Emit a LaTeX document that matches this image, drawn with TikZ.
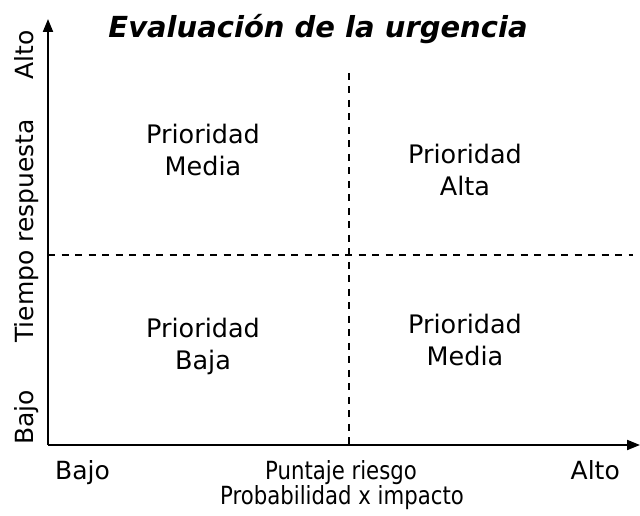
\documentclass[tikz,border=0pt]{standalone}
\usepackage{fontspec}
\setmainfont{DejaVu Sans}
\usetikzlibrary{arrows.meta}
\tikzset{
  quad/.style={align=center, font=\fontsize{25.5}{32}\selectfont},
  axlabel/.style={font=\fontsize{25}{30}\selectfont, inner sep=0pt},
  divider/.style={dashed, dash pattern=on 7pt off 6.5pt, line width=1.5pt},
}
\newcommand{\squeeze}[1]{\scalebox{0.85}[1]{#1}}
\begin{document}
\begin{tikzpicture}[x=1pt, y=1pt]
    \useasboundingbox (0,0) rectangle (640,516);

    % Axes
    \coordinate (O) at (48,71);
    \coordinate (ytop) at (48,497);
    \coordinate (xend) at (640,71);
    \draw[-{Triangle[length=13pt, width=10pt]}, line width=2pt] (O) -- (ytop);
    \draw[-{Triangle[length=13pt, width=10pt]}, line width=2pt] (O) -- (xend);

    % Dashed dividers
    \coordinate (vtop) at (349,443);
    \coordinate (vbot) at (349,71);
    \coordinate (hleft) at (48,261);
    \coordinate (hright) at (633,261);
    \draw[divider] (vtop) -- (vbot);
    \draw[divider] (hleft) -- (hright);

    % Title
    \node[font=\fontsize{29}{34}\selectfont\bfseries\itshape, anchor=base] (title) at (318,478) {Evaluación de la urgencia};

    % Quadrants
    \node[quad] (tl) at (203,366) {Prioridad\\Media};
    \node[quad] (tr) at (465,346) {Prioridad\\Alta};
    \node[quad] (bl) at (203,170) {Prioridad\\Baja};
    \node[quad] (br) at (465,176) {Prioridad\\Media};

    % Vertical axis labels
    \node[axlabel, rotate=90, anchor=base west] (yhigh) at (34,436) {Alto};
    \node[axlabel, rotate=90, anchor=base] (ytitle) at (34,285) {Tiempo respuesta};
    \node[axlabel, rotate=90, anchor=base west] (ylow) at (34,71) {Bajo};

    % Horizontal axis labels
    \node[axlabel, anchor=base west] (xlow) at (55,36) {Bajo};
    \node[axlabel, anchor=base] (xtitle) at (341,36) {\squeeze{Puntaje riesgo}};
    \node[axlabel, anchor=base] (xsub) at (342,11) {\squeeze{Probabilidad x impacto}};
    \node[axlabel, anchor=base east] (xhigh) at (620,36) {Alto};
\end{tikzpicture}
\end{document}
